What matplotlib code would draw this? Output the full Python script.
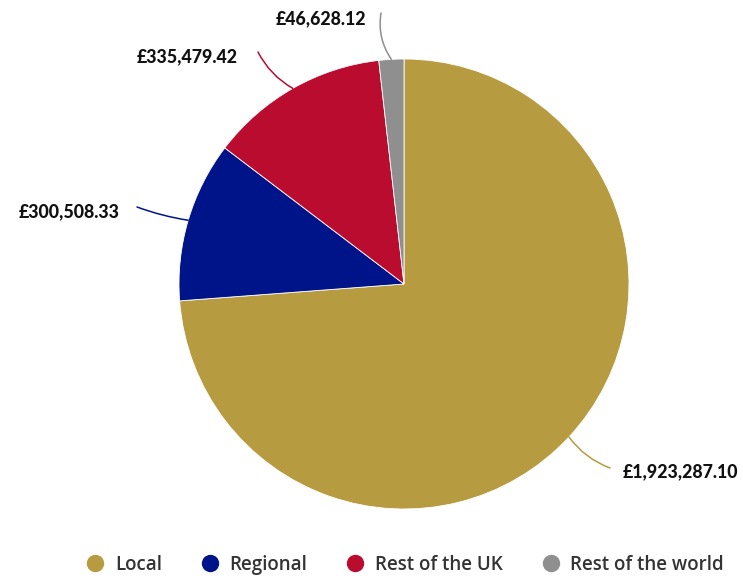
import numpy as np
import matplotlib.pyplot as plt
from matplotlib.lines import Line2D

# Spend by supplier location
categories = ["Local", "Regional", "Rest of the UK", "Rest of the world"]
values = [1923287.10, 300508.33, 335479.42, 46628.12]
colors = ["#B79B41", "#00148A", "#BA0C2F", "#8F8F8F"]

# where each value label sits (pixels from top-left) and how it is anchored
label_pos = [(623, 472), (120, 212), (238, 57), (366, 19)]
label_ha = ["left", "right", "right", "right"]
line_end = [(610, 468), (137, 207), (258, 52), (381, 13)]
line_rad = [-0.15, 0.05, 0.15, 0.2]

W, H = 743, 580
center = (404, H - 284)
radius = 225

fig = plt.figure(figsize=(W / 100, H / 100), dpi=100)
ax = fig.add_axes([0, 0, 1, 1])

wedges, _ = ax.pie(values, colors=colors, startangle=90, counterclock=False,
                   center=center, radius=radius,
                   wedgeprops=dict(edgecolor="white", linewidth=0.6))
ax.set_aspect("equal")
ax.set_xlim(0, W)
ax.set_ylim(0, H)
ax.axis("off")

for w, val, col, (lx, ly), ha, (ex, ey), rad in zip(
        wedges, values, colors, label_pos, label_ha, line_end, line_rad):
    mid = np.deg2rad((w.theta1 + w.theta2) / 2)
    px = center[0] + radius * np.cos(mid)
    py = center[1] + radius * np.sin(mid)
    ax.annotate("", xy=(px, py), xytext=(ex, H - ey),
                arrowprops=dict(arrowstyle="-", color=col, lw=1.1,
                                shrinkA=0, shrinkB=0,
                                connectionstyle=f"arc3,rad={rad}"))
    ax.text(lx, H - ly, f"£{val:,.2f}", ha=ha, va="center",
            fontsize=12.8, fontweight="black", family="Lato", color="#111111")

handles = [Line2D([], [], marker="o", linestyle="", markersize=11.5,
                  markerfacecolor=c, markeredgecolor=c) for c in colors]
fig.legend(handles, categories, loc="center", bbox_to_anchor=(405 / W, 15 / H),
           ncol=4, frameon=False, handletextpad=0.55, columnspacing=2.05,
           handlelength=1.0,
           prop=dict(family="Open Sans", size=13.5, weight="semibold"),
           labelcolor="#333333")

fig.savefig("out.png", dpi=100)
